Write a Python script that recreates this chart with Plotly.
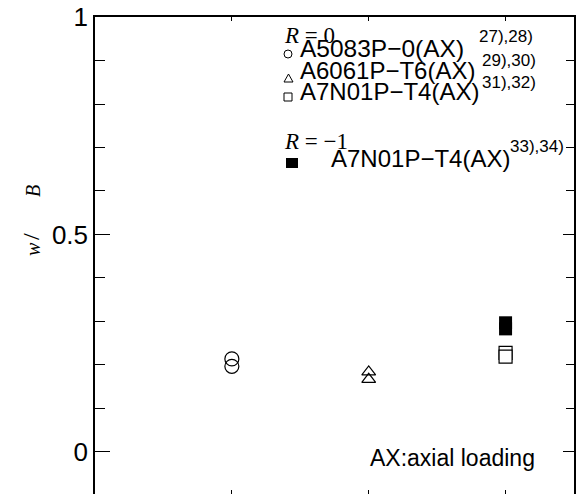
import plotly.graph_objects as go

# ---- data ----
categories = [1, 2, 3]
a5083_x = [1, 1]
a5083_y = [0.214, 0.197]
a6061_x = [2, 2]
a6061_y = [0.184, 0.167]
a7n01_r0_x = [3, 3]
a7n01_r0_y = [0.228, 0.219]
a7n01_rm1_x = [3, 3]
a7n01_rm1_y = [0.297, 0.283]
y_tickvals = [0, 0.5, 1]
y_ticktext = ["0", "0.5", "1"]

W, H = 578, 494
L, R, T, B = 95, 4, 17, 0
PW, PH = W - L - R, H - T - B
Y_RANGE = [-0.0966, 1]


def px(x):
    return (x - L) / PW


def py(y):
    return (H - B - y) / PH


fig = go.Figure()
mk_line = dict(color="black", width=1.2)
fig.add_trace(go.Scatter(x=a5083_x, y=a5083_y, mode="markers",
                         marker=dict(symbol="circle-open", size=14, line=mk_line, color="black")))
fig.add_trace(go.Scatter(x=a6061_x, y=a6061_y, mode="markers",
                         marker=dict(symbol="triangle-up-open", size=12, line=mk_line, color="black")))
fig.add_trace(go.Scatter(x=a7n01_r0_x, y=a7n01_r0_y, mode="markers",
                         marker=dict(symbol="square", size=13, color="white", line=mk_line)))
fig.add_trace(go.Scatter(x=a7n01_rm1_x, y=a7n01_rm1_y, mode="markers",
                         marker=dict(symbol="square", size=13, color="black", line=dict(color="black", width=0))))
# empty trace so that the right-hand tick axis is drawn
fig.add_trace(go.Scatter(x=[None], y=[None], yaxis="y2", mode="markers", hoverinfo="skip"))

sans = "Liberation Sans, Arial, sans-serif"
serif = "Liberation Serif, Times New Roman, serif"

ann = []


def add(text, x, y, size, family=sans, xanchor="left", yanchor="middle", angle=0):
    ann.append(dict(text=text, x=px(x), y=py(y), xref="paper", yref="paper",
                    showarrow=False, xanchor=xanchor, yanchor=yanchor, textangle=angle,
                    borderpad=0,
                    font=dict(family=family, size=size, color="black")))


# legend block
add("<i>R</i> = 0", 283, 35, 23, serif)
add("A5083P−0(AX)", 299, 48, 24.5)
add("27),28)", 478, 37, 17)
add("A6061P−T6(AX)", 299, 70, 24)
add("29),30)", 481, 60, 17)
add("A7N01P−T4(AX)", 299, 92, 24)
add("31),32)", 481, 82, 17)
add("<i>R</i> = −1", 283, 141, 23, serif)
add("A7N01P−T4(AX)", 330, 158, 24)
add("33),34)", 509, 146, 17)

add("AX:axial loading", 369, 458, 23)

# y axis title pieces (sigma glyphs are not shown in the reference)
add("<i>w</i>", 33, 249, 20, serif, xanchor="center", angle=-90)
add("/", 31, 237, 24, serif, xanchor="center", angle=-90)
add("<i>B</i>", 33, 191, 20, serif, xanchor="center", angle=-90)

# legend key symbols
shapes = []
lk = dict(color="black", width=1)
shapes.append(dict(type="circle", xref="paper", yref="paper",
                   x0=px(284), x1=px(292), y0=py(58), y1=py(50), line=lk))
shapes.append(dict(type="path", xref="paper", yref="paper",
                   path=f"M {px(284)} {py(82)} L {px(293)} {py(82)} L {px(288.5)} {py(74)} Z", line=lk))
shapes.append(dict(type="rect", xref="paper", yref="paper",
                   x0=px(284), x1=px(292), y0=py(101), y1=py(93), line=lk))
shapes.append(dict(type="rect", xref="paper", yref="paper",
                   x0=px(286), x1=px(298), y0=py(168), y1=py(158), line=dict(width=0), fillcolor="black"))

fig.update_layout(
    width=W, height=H,
    margin=dict(l=L, r=R, t=T, b=B, autoexpand=False),
    paper_bgcolor="white", plot_bgcolor="white",
    showlegend=False,
    annotations=ann,
    shapes=shapes,
    xaxis=dict(range=[0, 3.5], tickvals=categories, showticklabels=False,
               ticks="inside", ticklen=4, tickcolor="black", tickwidth=1,
               showline=True, linecolor="black", linewidth=1.5, mirror="ticks",
               showgrid=False, zeroline=False, automargin=False),
    yaxis=dict(range=Y_RANGE, tickvals=y_tickvals, ticktext=y_ticktext,
               ticks="inside", ticklen=15, tickcolor="black", tickwidth=1,
               minor=dict(dtick=0.1, ticks="inside", ticklen=10, tickcolor="black", tickwidth=1),
               showline=True, linecolor="black", linewidth=1.5, mirror=True,
               showgrid=False, zeroline=False, automargin=False,
               tickfont=dict(family=sans, size=26, color="black")),
    yaxis2=dict(range=Y_RANGE, overlaying="y", side="right", tickvals=y_tickvals,
                showticklabels=False, ticks="inside", ticklen=11, tickcolor="black", tickwidth=1,
                minor=dict(dtick=0.1, ticks="inside", ticklen=8, tickcolor="black", tickwidth=1),
                showline=False, showgrid=False, zeroline=False, automargin=False),
)

fig.write_html("out.html", config={"displayModeBar": False},
               post_script="document.body.style.margin='0';document.body.style.overflow='hidden';")
